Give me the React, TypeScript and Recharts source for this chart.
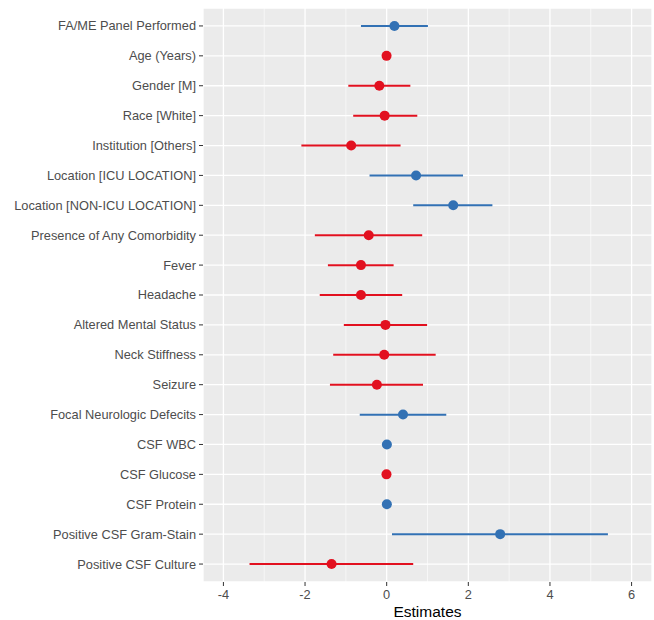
import React from "react";
import {
  ComposedChart,
  Bar,
  Line,
  XAxis,
  YAxis,
  CartesianGrid,
  Cell,
} from "recharts";

const labels = [
  "FA/ME Panel Performed",
  "Age (Years)",
  "Gender [M]",
  "Race [White]",
  "Institution [Others]",
  "Location [ICU LOCATION]",
  "Location [NON-ICU LOCATION]",
  "Presence of Any Comorbidity",
  "Fever",
  "Headache",
  "Altered Mental Status",
  "Neck Stiffness",
  "Seizure",
  "Focal Neurologic Defecits",
  "CSF WBC",
  "CSF Glucose",
  "CSF Protein",
  "Positive CSF Gram-Stain",
  "Positive CSF Culture",
];

const estimates = [0.19, -0.003, -0.18, -0.05, -0.87, 0.72, 1.63, -0.44, -0.63, -0.63, -0.03, -0.06, -0.24, 0.4, 0.005, -0.005, 0.004, 2.78, -1.35];
const lowerCI = [-0.63, -0.02, -0.94, -0.82, -2.09, -0.42, 0.65, -1.76, -1.44, -1.64, -1.05, -1.31, -1.39, -0.66, -0.01, -0.02, -0.01, 0.13, -3.36];
const upperCI = [1.01, 0.01, 0.58, 0.75, 0.34, 1.87, 2.59, 0.87, 0.17, 0.38, 0.99, 1.2, 0.89, 1.46, 0.02, 0.01, 0.02, 5.42, 0.65];

const xTicks = [-4, -2, 0, 2, 4, 6];
const minorTicks = [-3, -1, 1, 3, 5];

const POS = "#3271B4";
const NEG = "#E2101F";

const data = labels.map((name, i) => ({
  name,
  est: estimates[i],
  ci: [lowerCI[i], upperCI[i]],
  color: estimates[i] > 0 ? POS : NEG,
}));

const FONT = "'Liberation Sans', Arial, Helvetica, sans-serif";

const Dot = (props: any) => {
  const { cx, cy, payload, index } = props;
  if (cx == null || cy == null) return <g key={`d${index}`} />;
  return <circle key={`d${index}`} cx={cx} cy={cy} r={5} fill={payload.color} />;
};

const YTick = (props: any) => {
  const { x, y, payload } = props;
  return (
    <text
      x={x}
      y={y}
      dy="0.35em"
      textAnchor="end"
      fill="#4D4D4D"
      fontSize={12.8}
      fontFamily={FONT}
    >
      {payload.value}
    </text>
  );
};

const XTick = (props: any) => {
  const { x, y, payload } = props;
  return (
    <text
      x={x}
      y={y}
      dy="0.71em"
      textAnchor="middle"
      fill="#4D4D4D"
      fontSize={12.8}
      fontFamily={FONT}
    >
      {payload.value}
    </text>
  );
};

export default function App() {
  return (
    <div style={{ position: "absolute", left: 0, top: 0, width: 654, height: 620, background: "#fff" }}>
      <ComposedChart
        width={654}
        height={620}
        data={data}
        layout="vertical"
        margin={{ top: 8, right: 2, bottom: 0, left: 0 }}
      >
        <CartesianGrid fill="#EBEBEB" stroke="#FFFFFF" strokeWidth={1.3} />
        <CartesianGrid
          horizontal={false}
          verticalValues={minorTicks}
          stroke="#FFFFFF"
          strokeWidth={0.6}
        />
        <XAxis
          type="number"
          domain={[-4.5, 6.5]}
          ticks={xTicks}
          allowDataOverflow
          axisLine={false}
          tickLine={{ stroke: "#333333" }}
          tickSize={4}
          tickMargin={4}
          height={38}
          tick={<XTick />}
          label={{ value: "Estimates", position: "insideBottom", offset: 3, fill: "#000", fontSize: 15.5, fontFamily: FONT }}
        />
        <YAxis
          type="category"
          dataKey="name"
          width={203}
          axisLine={false}
          tickLine={{ stroke: "#333333" }}
          tickSize={4}
          tickMargin={3}
          padding={{ top: 3, bottom: 3 }}
          interval={0}
          tick={<YTick />}
        />
        <Bar dataKey="ci" barSize={2} isAnimationActive={false}>
          {data.map((d, i) => (
            <Cell key={i} fill={d.color} />
          ))}
        </Bar>
        <Line
          dataKey="est"
          stroke="none"
          dot={<Dot />}
          activeDot={false}
          isAnimationActive={false}
        />
      </ComposedChart>
    </div>
  );
}
